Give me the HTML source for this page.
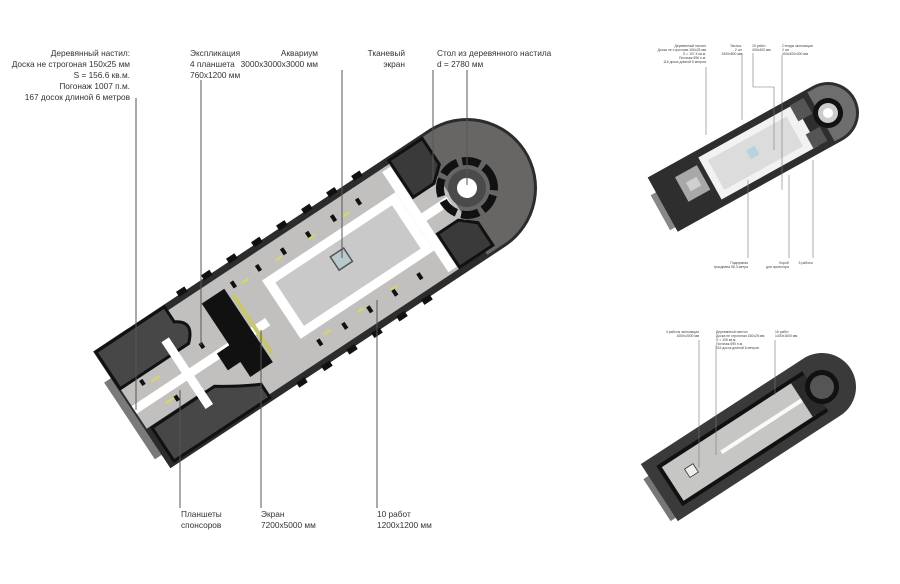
<!DOCTYPE html>
<html><head><meta charset="utf-8"><style>
html,body{margin:0;padding:0;background:#fff;}
svg{display:block;font-family:"Liberation Sans","DejaVu Sans",sans-serif;}
</style></head><body>
<svg width="900" height="584" viewBox="0 0 900 584" xmlns="http://www.w3.org/2000/svg">
<rect width="900" height="584" fill="#fff"/>

<!-- MAIN BUILDING -->
<g transform="translate(467,188) rotate(-33.5)">
  <rect x="-410" y="-38" width="20" height="92" fill="#7a7a7a"/>
  <path d="M-402,-70 L0,-70 A70,70 0 0 1 0,70 L-402,70 Z" fill="#2c2c2c"/>
  <path d="M-20,-67 L0,-67 A67,67 0 0 1 0,67 L-20,67 Z" fill="#686665"/>
  <rect x="-330" y="-63" width="312" height="126" fill="#c2c0be"/>
  <rect x="-400" y="-24" width="80" height="48" fill="#c2c0be"/>
  <path d="M-400,-68 L-318,-68 L-318,-50 Q-300,-40 -318,-24 L-400,-24 Z" fill="#474747" stroke="#111" stroke-width="3"/>
  <path d="M-395,26 L-320,26 Q-300,40 -280,50 L-280,66 L-395,66 Z" fill="#474747" stroke="#111" stroke-width="3"/>
  <rect x="-400" y="-3" width="160" height="9" fill="#fff"/>
  <rect x="-340" y="-40" width="9" height="80" fill="#fff"/>
  <path d="M-285,-50 L-258,-50 L-258,38 L-285,38 L-285,20 L-300,20 L-300,0 L-285,0 Z" fill="#111"/>
  <rect x="-256" y="-40" width="4" height="70" fill="#c8c86a"/>
  <rect x="-222" y="-36" width="160" height="70" fill="#fff"/>
  <rect x="-212" y="-27" width="140" height="52" fill="#c9c9c9"/>
  <rect x="-62" y="-60" width="10" height="120" fill="#fff"/>
  <rect x="-152" y="-18" width="16" height="16" fill="#b8c8cc" stroke="#555" stroke-width="1.5"/>
  <path d="M-50,-66 L-10,-66 L-10,-35 L-25,-22 L-50,-22 Z" fill="#3a3a3a" stroke="#111" stroke-width="3"/>
  <path d="M-50,22 L-25,22 L-10,35 L-10,62 L-50,62 Z" fill="#3a3a3a" stroke="#111" stroke-width="3"/>
  <rect x="-52" y="-4" width="30" height="9" fill="#fff"/>
  <circle cx="0" cy="0" r="27" fill="none" stroke="#111" stroke-width="8" stroke-dasharray="18 5"/>
  <circle cx="0" cy="0" r="19" fill="#4a4a4a"/>
  <circle cx="0" cy="0" r="10" fill="#fff"/>
  <g fill="#111">
    <rect x="-300" y="-74" width="10" height="6"/><rect x="-270" y="-74" width="10" height="6"/>
    <rect x="-240" y="-74" width="10" height="6"/><rect x="-210" y="-74" width="10" height="6"/>
    <rect x="-180" y="-74" width="10" height="6"/><rect x="-150" y="-74" width="10" height="6"/>
    <rect x="-120" y="-74" width="10" height="6"/><rect x="-90" y="-74" width="10" height="6"/>
    <rect x="-250" y="68" width="10" height="6"/><rect x="-220" y="68" width="10" height="6"/>
    <rect x="-190" y="68" width="10" height="6"/><rect x="-160" y="68" width="10" height="6"/>
    <rect x="-130" y="68" width="10" height="6"/><rect x="-100" y="68" width="10" height="6"/>
    <rect x="-250" y="-52" width="4" height="7"/><rect x="-220" y="-52" width="4" height="7"/>
    <rect x="-190" y="-52" width="4" height="7"/><rect x="-160" y="-52" width="4" height="7"/>
    <rect x="-130" y="-52" width="4" height="7"/><rect x="-100" y="-52" width="4" height="7"/>
    <rect x="-210" y="44" width="4" height="7"/><rect x="-180" y="44" width="4" height="7"/>
    <rect x="-150" y="44" width="4" height="7"/><rect x="-120" y="44" width="4" height="7"/>
    <rect x="-90" y="44" width="4" height="7"/>
    <rect x="-380" y="-20" width="4" height="6"/><rect x="-360" y="12" width="4" height="6"/>
    <rect x="-310" y="-18" width="4" height="6"/><rect x="-300" y="14" width="4" height="6"/>
  </g>
  <g fill="#d8d860">
    <rect x="-240" y="-46" width="8" height="2"/><rect x="-200" y="-46" width="8" height="2"/>
    <rect x="-160" y="-46" width="8" height="2"/><rect x="-120" y="-46" width="8" height="2"/>
    <rect x="-200" y="42" width="8" height="2"/><rect x="-160" y="42" width="8" height="2"/>
    <rect x="-120" y="42" width="8" height="2"/><rect x="-370" y="-14" width="10" height="2"/>
    <rect x="-370" y="12" width="10" height="2"/>
  </g>
</g>

<g stroke="#555" stroke-width="1">
  <line x1="136" y1="98" x2="136" y2="410"/>
  <line x1="201" y1="80" x2="201" y2="345"/>
  <line x1="342" y1="70" x2="342" y2="258"/>
  <line x1="433" y1="70" x2="433" y2="180"/>
  <line x1="467" y1="70" x2="467" y2="185"/>
  <line x1="180" y1="390" x2="180" y2="508"/>
  <line x1="261" y1="330" x2="261" y2="508"/>
  <line x1="377" y1="300" x2="377" y2="508"/>
</g>
<g font-size="8.3" fill="#333">
  <text x="130" y="56" text-anchor="end">Деревянный настил:</text>
  <text x="130" y="67" text-anchor="end">Доска не строгоная 150х25 мм</text>
  <text x="130" y="78" text-anchor="end">S = 156.6 кв.м.</text>
  <text x="130" y="89" text-anchor="end">Погонаж 1007 п.м.</text>
  <text x="130" y="100" text-anchor="end">167 досок длиной 6 метров</text>
  <text x="190" y="56">Экспликация</text>
  <text x="190" y="67">4 планшета</text>
  <text x="190" y="78">760х1200 мм</text>
  <text x="318" y="56" text-anchor="end">Аквариум</text>
  <text x="318" y="67" text-anchor="end">3000х3000х3000 мм</text>
  <text x="405" y="56" text-anchor="end">Тканевый</text>
  <text x="405" y="67" text-anchor="end">экран</text>
  <text x="437" y="56">Стол из деревянного настила</text>
  <text x="437" y="67">d = 2780 мм</text>
  <text x="181" y="517">Планшеты</text>
  <text x="181" y="528">спонсоров</text>
  <text x="261" y="517">Экран</text>
  <text x="261" y="528">7200х5000 мм</text>
  <text x="377" y="517">10 работ</text>
  <text x="377" y="528">1200х1200 мм</text>
</g>

<!-- TOP RIGHT BUILDING -->
<g transform="translate(828,113) rotate(-29)">
  <rect x="-195" y="-14" width="10" height="40" fill="#888"/>
  <path d="M-189,-31 L0,-31 A31,31 0 0 1 0,31 L-189,31 Z" fill="#2e2e2e"/>
  <path d="M-8,-28 L0,-28 A28,28 0 0 1 0,28 L-8,28 Z" fill="#6e6e6e"/>
  <rect x="-135" y="-24" width="110" height="48" fill="#f2f2f2"/>
  <rect x="-128" y="-17" width="90" height="34" fill="#dcdcdc"/>
  <rect x="-90" y="-7" width="10" height="10" fill="#b9d3dc"/>
  <rect x="-165" y="-18" width="25" height="28" fill="#a8a8a8"/>
  <rect x="-158" y="-8" width="12" height="10" fill="#cfcfcf"/>
  <rect x="-30" y="-25" width="16" height="18" fill="#555"/>
  <rect x="-30" y="8" width="16" height="16" fill="#555"/>
  <circle cx="0" cy="0" r="15" fill="#111"/>
  <circle cx="0" cy="0" r="10" fill="#ccc"/>
  <circle cx="0" cy="0" r="5" fill="#fff"/>
</g>
<g stroke="#777" stroke-width="0.6" fill="none">
  <line x1="706" y1="67" x2="706" y2="135"/>
  <line x1="742" y1="53" x2="742" y2="120"/>
  <polyline points="753,53 753,87 774,87 774,150"/>
  <line x1="782" y1="55" x2="782" y2="190"/>
  <line x1="748" y1="180" x2="748" y2="258"/>
  <line x1="789" y1="175" x2="789" y2="258"/>
  <line x1="813" y1="160" x2="813" y2="258"/>
</g>
<g font-size="3.4" fill="#444">
  <text x="706" y="47" text-anchor="end">Деревянный настил</text>
  <text x="706" y="51" text-anchor="end">Доска не строгоная 150х25 мм</text>
  <text x="706" y="55" text-anchor="end">S = 107.4 кв.м.</text>
  <text x="706" y="59" text-anchor="end">Погонаж 696 п.м.</text>
  <text x="706" y="63" text-anchor="end">116 досок длиной 6 метров</text>
  <text x="742" y="47" text-anchor="end">Экспоз.</text>
  <text x="742" y="51" text-anchor="end">2 шт</text>
  <text x="742" y="55" text-anchor="end">3400х800 мм</text>
  <text x="752" y="47">15 работ</text>
  <text x="752" y="51">400х400 мм</text>
  <text x="782" y="47">Стенды экспозиции</text>
  <text x="782" y="51">2 шт</text>
  <text x="782" y="55">400х400х300 мм</text>
  <text x="748" y="264" text-anchor="end">Подиумная</text>
  <text x="748" y="268" text-anchor="end">трасдиана 58.3 метра</text>
  <text x="789" y="264" text-anchor="end">Короб</text>
  <text x="789" y="268" text-anchor="end">для проектора</text>
  <text x="813" y="264" text-anchor="end">5 работы</text>
</g>

<!-- BOTTOM RIGHT BUILDING -->
<g transform="translate(822,387) rotate(-33)">
  <rect x="-200" y="-20" width="10" height="50" fill="#777"/>
  <path d="M-194,-34 L0,-34 A34,34 0 0 1 0,34 L-194,34 Z" fill="#3a3a3a"/>
  <path d="M-182,-24 L-8,-24 L-8,24 L-182,24 Z" fill="#111"/>
  <rect x="-178" y="-20" width="158" height="40" fill="#c6c6c4"/>
  <rect x="-120" y="-2" width="108" height="4" fill="#fafafa"/>
  <rect x="-160" y="-6" width="10" height="10" fill="#eee" stroke="#333" stroke-width="0.8"/>
  <rect x="-24" y="-20" width="16" height="40" fill="#2a2a2a"/>
  <circle cx="0" cy="0" r="17" fill="#111"/>
  <circle cx="0" cy="0" r="12" fill="#555"/>
</g>
<g stroke="#777" stroke-width="0.6">
  <line x1="699" y1="340" x2="699" y2="468"/>
  <line x1="716" y1="345" x2="716" y2="455"/>
  <line x1="775" y1="340" x2="775" y2="395"/>
</g>
<g font-size="3.4" fill="#444">
  <text x="699" y="333" text-anchor="end">4 работы экспозиции</text>
  <text x="699" y="337" text-anchor="end">1600х2000 мм</text>
  <text x="716" y="333">Деревянный настил</text>
  <text x="716" y="337">Доска не строгоная 150х25 мм</text>
  <text x="716" y="341">S = 106 кв.м.</text>
  <text x="716" y="345">Погонаж 690 п.м.</text>
  <text x="716" y="349">115 досок длиной 6 метров</text>
  <text x="775" y="333">16 работ</text>
  <text x="775" y="337">1400х1600 мм</text>
</g>
</svg>
</body></html>
